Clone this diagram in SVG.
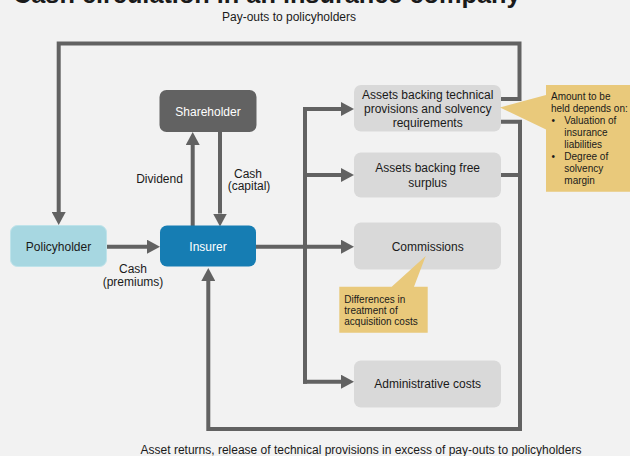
<svg xmlns="http://www.w3.org/2000/svg" width="630" height="456" viewBox="0 0 630 456">
  <defs>
    <marker id="arrow" markerUnits="userSpaceOnUse" viewBox="0 0 13 14" refX="0" refY="7" markerWidth="13" markerHeight="14" orient="auto">
      <path d="M0,0 L13,7 L0,14 Z" fill="#626262"/>
    </marker>
    <style>
      text { font-family: "Liberation Sans", Arial, sans-serif; fill: #1a1a1a; }
      .lbl { font-size: 12px; text-anchor: middle; }
      .note { font-size: 10px; }
      .flow { fill: none; stroke: #626262; stroke-width: 4; stroke-linejoin: miter; }
      .arr { marker-end: url(#arrow); }
      .asset { fill: #d9d9d9; }
      .callout { fill: #e9c97b; }
      .white { fill: #ffffff; }
    </style>
  </defs>

  <rect x="0" y="0" width="630" height="456" fill="#f2f2f2"/>

  <!-- heading, partly above the canvas -->
  <text x="13" y="3" style="font-size:25.3px;font-weight:bold;">Cash circulation in an insurance company</text>

  <!-- flow labels -->
  <text class="lbl" x="289" y="20.5">Pay-outs to policyholders</text>
  <text class="lbl" x="361" y="454.3">Asset returns, release of technical provisions in excess of pay-outs to policyholders</text>
  <text class="lbl" x="159.5" y="183">Dividend</text>
  <text class="lbl" x="248" y="177.5">Cash</text>
  <text class="lbl" x="249" y="190">(capital)</text>
  <text class="lbl" x="133" y="273">Cash</text>
  <text class="lbl" x="133" y="285.5">(premiums)</text>

  <!-- connectors -->
  <g id="connectors">
    <!-- pay-outs loop back to the policyholder -->
    <path class="flow arr" d="M501,99 H519.5 V43.5 H58.7 V212"/>
    <!-- premiums -->
    <path class="flow arr" d="M107,246.7 H147"/>
    <!-- dividend and capital -->
    <path class="flow arr" d="M192.7,226 V145"/>
    <path class="flow arr" d="M220,132 V213.5"/>
    <!-- insurer spreads cash over asset and cost boxes -->
    <path class="flow" d="M256,246.7 H305"/>
    <path class="flow" d="M305,107 V383.7"/>
    <path class="flow arr" d="M303,109 H341"/>
    <path class="flow arr" d="M303,175 H341"/>
    <path class="flow arr" d="M305,246.7 H341"/>
    <path class="flow arr" d="M303,381.7 H341"/>
    <!-- returns back to the insurer -->
    <path class="flow" d="M501,175 H520"/>
    <path class="flow arr" d="M501,121.7 H520 V429 H208.3 V281"/>
  </g>

  <g id="policyholder">
    <rect x="10.5" y="225.5" width="96" height="41" rx="7" fill="#a7d7e1" stroke="#bfe3ea" stroke-width="1"/>
    <text class="lbl" x="58.5" y="250.7">Policyholder</text>
  </g>

  <g id="insurer">
    <rect x="160" y="225.5" width="96" height="41" rx="7" fill="#167db3"/>
    <text class="lbl white" x="208" y="250.7">Insurer</text>
  </g>

  <g id="shareholder">
    <rect x="159.5" y="90" width="97" height="42" rx="7" fill="#626262"/>
    <text class="lbl white" x="208" y="115.5">Shareholder</text>
  </g>

  <g id="assets-technical">
    <rect class="asset" x="354" y="85" width="147" height="46.5" rx="7"/>
    <text class="lbl" x="427.7" y="99.2">Assets backing technical</text>
    <text class="lbl" x="427.7" y="113">provisions and solvency</text>
    <text class="lbl" x="427.7" y="126.8">requirements</text>
  </g>

  <g id="assets-free">
    <rect class="asset" x="354" y="152.5" width="147" height="45" rx="7"/>
    <text class="lbl" x="427.7" y="171.8">Assets backing free</text>
    <text class="lbl" x="427.7" y="186.8">surplus</text>
  </g>

  <g id="commissions">
    <rect class="asset" x="354" y="222.5" width="147" height="47" rx="7"/>
    <text class="lbl" x="427.7" y="250.8">Commissions</text>
  </g>

  <g id="admin-costs">
    <rect class="asset" x="354" y="360.5" width="147" height="47" rx="7"/>
    <text class="lbl" x="427.7" y="387.8">Administrative costs</text>
  </g>

  <g id="note-amount">
    <path class="callout" d="M500,107.5 L546,95 V85 H630 V191.7 H546 V129.5 Z"/>
    <text class="note" x="551" y="100.2">Amount to be</text>
    <text class="note" x="551" y="112.4">held depends on:</text>
    <text class="note" x="551.5" y="124.2">•</text>
    <text class="note" x="564.3" y="124.2">Valuation of</text>
    <text class="note" x="564.3" y="135.8">insurance</text>
    <text class="note" x="564.3" y="147.8">liabilities</text>
    <text class="note" x="551.5" y="160.2">•</text>
    <text class="note" x="564.3" y="160.2">Degree of</text>
    <text class="note" x="564.3" y="172.2">solvency</text>
    <text class="note" x="564.3" y="184.2">margin</text>
  </g>

  <g id="note-commissions">
    <path class="callout" d="M425.7,256 L414,286.7 H427.7 V332.7 H339.3 V286.7 H391.7 Z"/>
    <text class="note" x="344.3" y="302.5">Differences in</text>
    <text class="note" x="344.3" y="313.8">treatment of</text>
    <text class="note" x="344.3" y="325.2">acquisition costs</text>
  </g>
</svg>
